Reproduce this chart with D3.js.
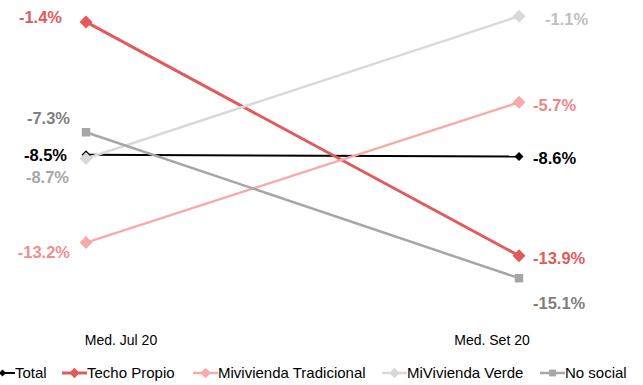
<!DOCTYPE html>
<html>
<head>
<meta charset="utf-8">
<script src="https://cdn.jsdelivr.net/npm/d3@7"></script>
<style>
  html, body { margin: 0; padding: 0; background: #fff; }
  svg { display: block; font-family: "Liberation Sans", Arial, sans-serif; }
</style>
</head>
<body>
<svg id="chart" width="643" height="385"></svg>
<script>
// Periods compared
const periods = ["Med. Jul 20", "Med. Set 20"];

// Series names and values (%)
const seriesNames = ["Total", "Techo Propio", "Mivivienda Tradicional", "MiVivienda Verde", "No social"];
const total        = [-8.5, -8.6];
const techoPropio  = [-1.4, -13.9];
const mvTradicional = [-13.2, -5.7];
const mvVerde      = [-8.7, -1.1];
const noSocial     = [-7.3, -15.1];
const seriesValues = [total, techoPropio, mvTradicional, mvVerde, noSocial];

// Styling per series
const lineColors  = ["#000000", "#e35a5d", "#f7aaaa", "#d9d9d9", "#a6a6a6"];
const labelColors = [["#000000", "#000000"], ["#e35a5d", "#e35a5d"], ["#f08f8f", "#f08585"], ["#a6a6a6", "#bfbfbf"], ["#7f7f7f", "#7f7f7f"]];
const lineWidths  = [2, 3, 2.5, 2.5, 2.5];
const markerTypes = ["diamondSmall", "diamond", "diamond", "diamond", "square"];
// Label placement nudges so the value labels don't collide [left, right]
const labelDy = [[0, 1], [-5, 2], [9, 3], [19, 3], [-14, 25]];
const labelDxLeft = [19, 24, 16, 17, 16];
const labelDxRight = [14, 14, 14, 26, 14];

const svg = d3.select("#chart");

const x = d3.scalePoint().domain(periods).range([86, 519]);
const xAxisLabel = d3.scalePoint().domain(periods).range([121, 492]);
const y = d3.scaleLinear().domain([0, -16]).range([-4.3, 295]);

function markerPath(type) {
  if (type === "square") return d3.symbol(d3.symbolSquare, 72)();
  if (type === "diamondSmall") return "M0,-4.5L4.5,0L0,4.5L-4.5,0Z";
  return "M0,-6.5L6.5,0L0,6.5L-6.5,0Z";
}

const line = d3.line().x((d, i) => x(periods[i])).y(d => y(d));

seriesValues.forEach((vals, s) => {
  const g = svg.append("g").attr("class", "series");
  g.append("path")
    .attr("d", line(vals))
    .attr("fill", "none")
    .attr("stroke", lineColors[s])
    .attr("stroke-width", lineWidths[s]);
  g.selectAll("path.marker")
    .data(vals)
    .join("path")
    .attr("class", "marker")
    .attr("d", markerPath(markerTypes[s]))
    .attr("transform", (d, i) => `translate(${x(periods[i])},${y(d)})`)
    .attr("fill", lineColors[s]);
});

// Value labels
const fmt = v => v.toFixed(1) + "%";
seriesValues.forEach((vals, s) => {
  svg.append("text")
    .attr("x", x(periods[0]) - labelDxLeft[s])
    .attr("y", y(vals[0]) + labelDy[s][0])
    .attr("dy", "0.36em")
    .attr("text-anchor", "end")
    .attr("font-size", 16.5)
    .attr("font-weight", "bold")
    .attr("fill", labelColors[s][0])
    .text(fmt(vals[0]));
  svg.append("text")
    .attr("x", x(periods[1]) + labelDxRight[s])
    .attr("y", y(vals[1]) + labelDy[s][1])
    .attr("dy", "0.36em")
    .attr("text-anchor", "start")
    .attr("font-size", 16.5)
    .attr("font-weight", "bold")
    .attr("fill", labelColors[s][1])
    .text(fmt(vals[1]));
});

// Category labels
svg.selectAll("text.cat")
  .data(periods)
  .join("text")
  .attr("class", "cat")
  .attr("x", d => xAxisLabel(d))
  .attr("y", 340)
  .attr("dy", "0.36em")
  .attr("text-anchor", "middle")
  .attr("font-size", 14)
  .attr("fill", "#000")
  .text(d => d);

// Legend
const legendX = [-10, 62, 193, 382, 540];
const legend = svg.append("g").attr("transform", "translate(0,373)");
seriesNames.forEach((name, s) => {
  const g = legend.append("g").attr("transform", `translate(${legendX[s]},0)`);
  g.append("line")
    .attr("x1", 0).attr("x2", 25)
    .attr("stroke", lineColors[s])
    .attr("stroke-width", lineWidths[s]);
  g.append("path")
    .attr("d", markerPath(markerTypes[s]))
    .attr("transform", "translate(12.5,0) scale(0.8)")
    .attr("fill", lineColors[s]);
  g.append("text")
    .attr("x", 25)
    .attr("dy", "0.36em")
    .attr("font-size", 15)
    .attr("fill", "#000")
    .text(name);
});
</script>
</body>
</html>
